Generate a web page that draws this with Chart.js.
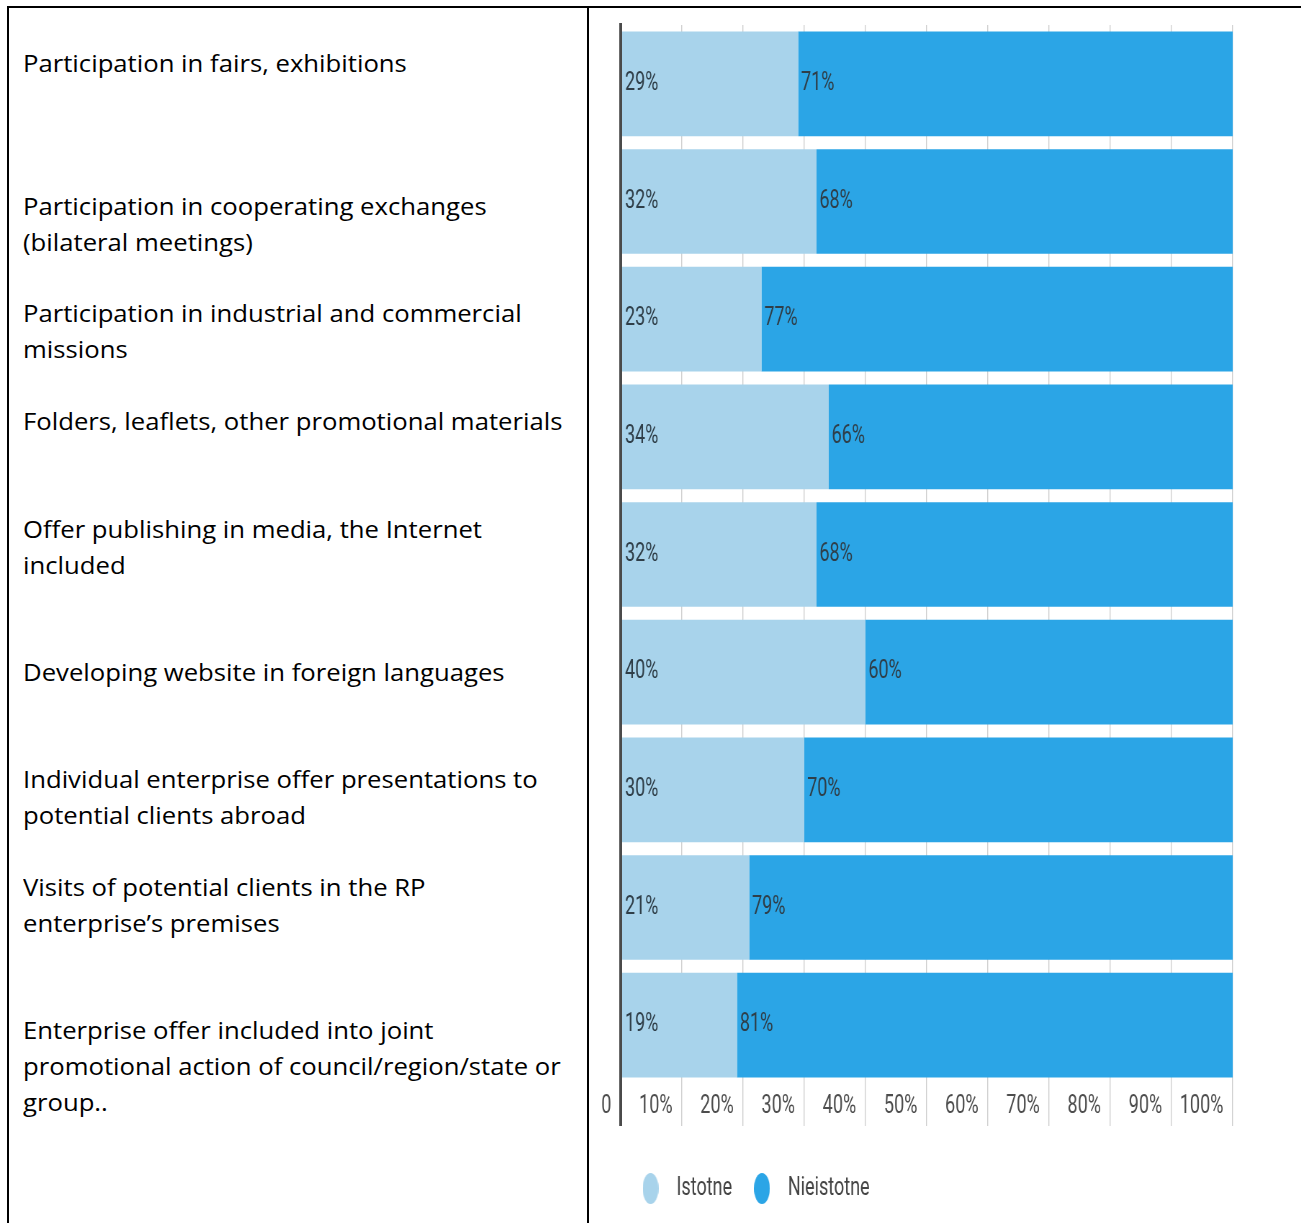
<!DOCTYPE html>
<html>
<head>
<meta charset="utf-8">
<script src="https://cdn.jsdelivr.net/npm/chart.js@4.4.0/dist/chart.umd.min.js"></script>
<style>
  html, body { margin: 0; padding: 0; background: #fff; }
  body { width: 1301px; height: 1223px; position: relative; overflow: hidden; }
  .linea { position: absolute; background: #000; }
  .cat {
    position: absolute; left: 23px;
    font-family: "Open Sans", sans-serif; font-size: 24px; line-height: 36px;
    color: #000; white-space: nowrap;
    transform-origin: 0 0; transform: scaleX(1.07);
  }
  #grafica-promocion {
    position: absolute; left: 571px; top: 0;
    transform-origin: 0 0; transform: scaleX(0.72);
  }
</style>
</head>
<body>
<div class="linea" style="left:7px;top:6px;width:1294px;height:2px"></div>
<div class="linea" style="left:7px;top:6px;width:2px;height:1217px"></div>
<div class="linea" style="left:587px;top:6px;width:2px;height:1217px"></div>
<div id="textos"></div>
<canvas id="grafica-promocion" width="1014" height="1223"></canvas>

<script>
const categorias = [
  ["Participation in fairs, exhibitions"],
  ["Participation in cooperating exchanges", "(bilateral meetings)"],
  ["Participation in industrial and commercial", "missions"],
  ["Folders, leaflets, other promotional materials"],
  ["Offer publishing in media, the Internet", "included"],
  ["Developing website in foreign languages"],
  ["Individual enterprise offer presentations to", "potential clients abroad"],
  ["Visits of potential clients in the RP", "enterprise’s premises"],
  ["Enterprise offer included into joint", "promotional action of council/region/state or", "group.."],
];
const istotne = [29, 32, 23, 34, 32, 40, 30, 21, 19];
const nieistotne = [71, 68, 77, 66, 68, 60, 70, 79, 81];
const tickLabels = ["0", "10%", "20%", "30%", "40%", "50%", "60%", "70%", "80%", "90%", "100%"];

// top of each text block in the left column
const topesTexto = [45, 188, 295, 403, 511, 654, 761, 869, 1012];

const colorIstotne = "#a8d3eb";
const colorNieistotne = "#2ba5e6";

const contenedor = document.querySelector("#textos");
categorias.forEach((lineas, i) => {
  const div = document.createElement("div");
  div.className = "cat";
  div.style.top = topesTexto[i] + "px";
  div.innerHTML = lineas.join("<br>");
  contenedor.appendChild(div);
});

// oval marker for the legend
const ovalo = (color) => {
  const c = document.createElement("canvas");
  c.width = 22;
  c.height = 31;
  const ctx = c.getContext("2d");
  ctx.fillStyle = color;
  ctx.beginPath();
  ctx.ellipse(11, 15.5, 11, 15.5, 0, 0, Math.PI * 2);
  ctx.fill();
  return c;
};

// percent text at the start of every segment
const etiquetas = {
  id: "etiquetas",
  afterDatasetsDraw(chart) {
    const { ctx } = chart;
    ctx.save();
    ctx.font = "25px Roboto";
    ctx.fillStyle = "#2f3e48";
    ctx.textAlign = "left";
    ctx.textBaseline = "middle";
    chart.data.datasets.forEach((ds, i) => {
      chart.getDatasetMeta(i).data.forEach((bar, j) => {
        const inicio = Math.min(bar.base, bar.x);
        ctx.fillText(ds.data[j] + "%", inicio + 4, bar.y);
      });
    });
    ctx.restore();
  },
};

const dibujar = () => {
  Chart.defaults.font.family = "Roboto";

  const chartConfig = {
    type: "bar",
    data: {
      labels: categorias.map((l) => l.join(" ")),
      datasets: [
        { label: "Istotne", data: istotne, backgroundColor: colorIstotne, pointStyle: ovalo(colorIstotne) },
        { label: "Nieistotne", data: nieistotne, backgroundColor: colorNieistotne, pointStyle: ovalo(colorNieistotne) },
      ],
    },
    options: {
      indexAxis: "y",
      responsive: false,
      animation: false,
      devicePixelRatio: 1,
      layout: { padding: { left: 69, right: 95, top: 25, bottom: 12 } },
      datasets: { bar: { categoryPercentage: 1, barPercentage: 0.89 } },
      scales: {
        x: {
          stacked: true,
          min: 0,
          max: 100,
          afterFit: (s) => { s.height = 74; },
          border: { display: false },
          grid: {
            color: (c) => (c.tick && c.tick.value === 0 ? "#4a4a4a" : "#cfcfcf"),
            lineWidth: (c) => (c.tick && c.tick.value === 0 ? 4 : 1.4),
            tickLength: 42,
          },
          ticks: {
            stepSize: 10,
            align: "end",
            labelOffset: -13,
            padding: -34,
            color: "#4d4d4d",
            font: { size: 25 },
            callback: (v, i) => tickLabels[i],
          },
        },
        y: {
          stacked: true,
          z: 1,
          ticks: { display: false },
          grid: { display: false },
          border: { display: true, color: "#4a4a4a", width: 4 },
          afterFit: (s) => { s.width = 0; },
        },
      },
      plugins: {
        legend: {
          position: "bottom",
          align: "start",
          labels: {
            usePointStyle: true,
            pointStyleWidth: 47,
            padding: 18,
            color: "#444",
            font: { size: 25 },
          },
        },
        tooltip: { enabled: false },
      },
    },
    plugins: [etiquetas],
  };

  new Chart(document.querySelector("#grafica-promocion"), chartConfig);
};

document.fonts.load("25px Roboto").then(dibujar, dibujar);
</script>
</body>
</html>
